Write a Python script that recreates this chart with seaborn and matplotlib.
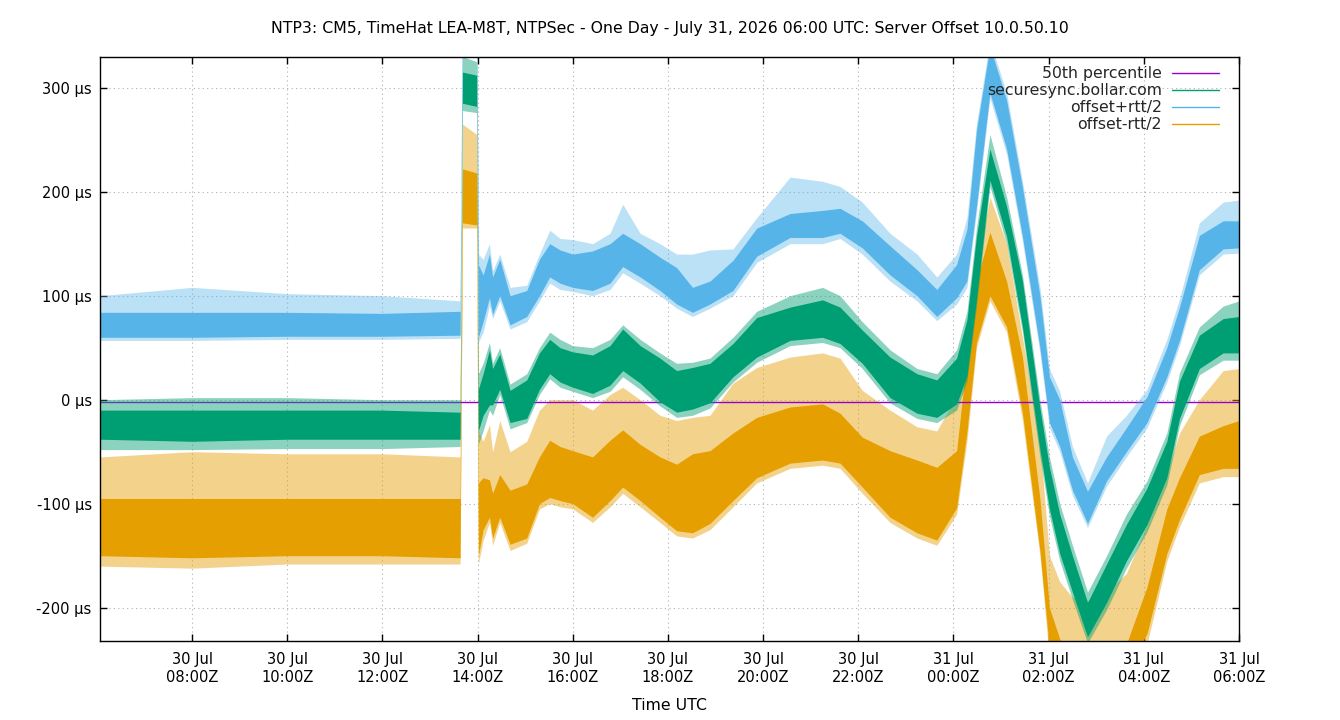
import numpy as np
import pandas as pd
import matplotlib
matplotlib.use("Agg")
import matplotlib.pyplot as plt
import matplotlib.dates as mdates
import matplotlib.ticker as mticker
from matplotlib.lines import Line2D
import seaborn as sns

# ---------------- data ----------------
times = ["2026-07-30 06:04", "2026-07-30 08:00", "2026-07-30 10:00", "2026-07-30 12:00",
         "2026-07-30 13:38", "2026-07-30 13:41", "2026-07-30 13:59", "2026-07-30 14:01",
         "2026-07-30 14:07", "2026-07-30 14:15", "2026-07-30 14:19", "2026-07-30 14:28",
         "2026-07-30 14:41", "2026-07-30 15:02", "2026-07-30 15:18", "2026-07-30 15:31",
         "2026-07-30 15:44", "2026-07-30 16:00", "2026-07-30 16:25", "2026-07-30 16:47",
         "2026-07-30 17:03", "2026-07-30 17:25", "2026-07-30 17:50", "2026-07-30 18:11",
         "2026-07-30 18:31", "2026-07-30 18:53", "2026-07-30 19:22", "2026-07-30 19:52",
         "2026-07-30 20:34", "2026-07-30 21:15", "2026-07-30 21:37", "2026-07-30 22:05",
         "2026-07-30 22:40", "2026-07-30 23:14", "2026-07-30 23:39", "2026-07-31 00:04",
         "2026-07-31 00:17", "2026-07-31 00:29", "2026-07-31 00:46", "2026-07-31 01:07",
         "2026-07-31 01:27", "2026-07-31 01:49", "2026-07-31 02:01", "2026-07-31 02:14",
         "2026-07-31 02:30", "2026-07-31 02:49", "2026-07-31 03:13", "2026-07-31 03:38",
         "2026-07-31 04:04", "2026-07-31 04:29", "2026-07-31 04:45", "2026-07-31 05:10",
         "2026-07-31 05:40", "2026-07-31 06:00"]

# offset+rtt/2 (µs): dense band low/high, and extent of the sparse spikes
plus_lo = [60, 60, 61, 61, 62, 340, 340,
           60, 75, 98, 82, 100, 72, 80, 100, 118, 112, 108, 105, 112, 128, 118, 105, 92, 84, 92,
           105, 138, 156, 156, 160, 146, 120, 100, 80,
           98, 114, 186, 295, 241, 157, 50, -22, -45, -87, -119, -78, -50, -22, 22, 57, 125, 145, 146]
plus_hi = [84, 84, 84, 83, 85, 380, 380,
           130, 120, 140, 118, 135, 100, 105, 135, 150, 144, 140, 143, 150, 160, 150, 137, 127, 108, 114,
           134, 165, 179, 182, 184, 172, 148, 125, 106,
           130, 164, 259, 340, 288, 204, 100, 22, 0, -55, -88, -55, -27, 3, 50, 89, 158, 172, 172]
plus_spike_hi = [100, 108, 102, 100, 95, 390, 390,
                 140, 135, 150, 124, 140, 108, 110, 140, 163, 155, 154, 150, 160, 188, 160, 150, 140, 140, 144,
                 145, 175, 214, 210, 205, 190, 160, 140, 118,
                 140, 175, 265, 345, 295, 210, 108, 30, 8, -45, -80, -35, -15, 10, 58, 97, 170, 190, 192]
plus_spike_lo = [57, 57, 58, 58, 59, 335, 335,
                 55, 65, 90, 78, 95, 68, 75, 95, 112, 106, 104, 100, 106, 122, 112, 100, 88, 80, 88,
                 100, 132, 150, 150, 155, 140, 114, 95, 76,
                 92, 108, 180, 290, 236, 152, 45, -27, -50, -92, -123, -83, -55, -27, 17, 52, 120, 140, 141]

# securesync.bollar.com offset (µs)
sync_lo = [-38, -40, -38, -38, -38, 285, 282,
           -30, -15, -5, -5, 10, -22, -18, 10, 25, 17, 12, 6, 14, 28, 16, -2, -12, -9, -3,
           22, 41, 57, 60, 54, 35, 2, -13, -17,
           -4, 23, 96, 211, 157, 70, -48, -105, -148, -185, -228, -195, -155, -120, -75, -18, 30, 45, 45]
sync_hi = [-10, -10, -10, -10, -12, 315, 312,
           10, 25, 48, 30, 44, 9, 19, 45, 58, 50, 46, 43, 52, 68, 52, 40, 28, 31, 35,
           54, 79, 89, 96, 89, 67, 41, 25, 19,
           40, 77, 157, 241, 186, 114, -8, -65, -110, -150, -195, -158, -120, -85, -40, 18, 62, 78, 80]
sync_spike_hi = [0, 2, 2, 0, 0, 330, 325,
                 25, 35, 55, 35, 50, 15, 25, 50, 65, 58, 52, 50, 58, 72, 58, 45, 35, 36, 40,
                 60, 85, 100, 108, 100, 75, 48, 30, 25,
                 48, 85, 165, 255, 195, 120, 0, -55, -100, -140, -185, -150, -110, -78, -32, 26, 70, 90, 95]
sync_spike_lo = [-48, -48, -47, -47, -45, 278, 276,
                 -43, -30, -10, -15, 5, -28, -22, 5, 20, 12, 8, 2, 8, 22, 10, -6, -17, -15, -8,
                 17, 36, 52, 55, 50, 30, -3, -18, -22,
                 -10, 18, 90, 205, 150, 65, -55, -112, -155, -192, -234, -202, -162, -127, -82, -25, 24, 38, 38]

# offset-rtt/2 (µs)
minus_lo = [-150, -152, -150, -150, -152, 170, 168,
            -150, -125, -113, -133, -113, -139, -133, -100, -94, -97, -100, -113, -97, -84, -97, -113, -126, -128, -119,
            -97, -75, -61, -58, -61, -84, -113, -128, -135,
            -104, -31, 55, 100, 70, -13, -145, -240, -260, -290, -300, -290, -260, -225, -148, -115, -72, -66, -66]
minus_hi = [-95, -95, -95, -95, -95, 222, 218,
            -80, -75, -77, -90, -72, -87, -81, -55, -39, -45, -49, -55, -39, -29, -43, -55, -62, -52, -49,
            -32, -17, -7, -4, -13, -36, -49, -58, -65,
            -49, 41, 114, 161, 114, 41, -95, -200, -230, -250, -260, -250, -235, -180, -105, -75, -35, -25, -20]
minus_spike_hi = [-55, -50, -52, -52, -55, 265, 255,
                  -30, -40, -24, -50, -20, -50, -40, -10, 0, 0, 0, -10, 5, 12, 0, -15, -20, -17, -15,
                  16, 31, 41, 45, 40, 9, -10, -26, -30,
                  4, 50, 125, 195, 150, 60, -40, -150, -175, -190, -193, -185, -167, -120, -70, -32, 0, 28, 30]
minus_spike_lo = [-160, -162, -158, -158, -158, 165, 165,
                  -158, -135, -118, -140, -118, -145, -138, -105, -100, -103, -105, -118, -103, -90, -103, -118, -131, -133, -125,
                  -103, -80, -66, -63, -66, -90, -118, -133, -140,
                  -110, -40, 50, 95, 65, -20, -150, -250, -270, -300, -310, -300, -270, -235, -155, -122, -80, -74, -74]

percentile_50 = -2.4

labels = ["50th percentile", "securesync.bollar.com", "offset+rtt/2", "offset-rtt/2"]
colors = ["#9400d3", "#009e73", "#56b4e9", "#e69f00"]
yticks = [-200, -100, 0, 100, 200, 300]
title = ("NTP3: CM5, TimeHat LEA-M8T, NTPSec - One Day - July 31, 2026 06:00 UTC: "
         "Server Offset 10.0.50.10")

# ---------------- style ----------------
sns.set_theme(style="ticks")
plt.rcParams["font.family"] = ["DejaVu Sans"]
FS_TICK = 10.5
FS_TEXT = 11.3

fig = plt.figure(figsize=(13.4, 7.2), dpi=100)
ax = fig.add_axes([100 / 1340, 1 - 641 / 720, 1139 / 1340, 584 / 720])

t = pd.to_datetime(pd.Series(times))


def band(lo, hi, color, alpha, z):
    df = pd.DataFrame({"time": pd.concat([t, t], ignore_index=True),
                       "value": np.concatenate([np.asarray(lo, float), np.asarray(hi, float)])})
    sns.lineplot(data=df, x="time", y="value", estimator="mean", errorbar=("pi", 100),
                 color=color, linewidth=0, legend=False, ax=ax,
                 err_kws={"alpha": alpha, "linewidth": 0, "zorder": z})


# offset-rtt/2 (bottom layer)
band(minus_spike_lo, minus_spike_hi, colors[3], 0.45, 2.0)
band(minus_lo, minus_hi, colors[3], 1.0, 2.1)
# 50th percentile
ax.axhline(percentile_50, color=colors[0], lw=1.0, zorder=2.5)
# securesync
band(sync_spike_lo, sync_spike_hi, colors[1], 0.45, 3.0)
band(sync_lo, sync_hi, colors[1], 1.0, 3.1)
# offset+rtt/2
band(plus_spike_lo, plus_spike_hi, colors[2], 0.4, 4.0)
band(plus_lo, plus_hi, colors[2], 1.0, 4.1)

# ---------------- axes ----------------
ax.set_xlim(pd.Timestamp("2026-07-30 06:04"), pd.Timestamp("2026-07-31 06:00"))
ax.set_ylim(-232, 329.5)
ax.xaxis.set_major_locator(mdates.HourLocator(byhour=range(0, 24, 2)))
ax.xaxis.set_major_formatter(mdates.DateFormatter("%d %b\n%H:%MZ"))
ax.yaxis.set_major_locator(mticker.FixedLocator(yticks))
ax.yaxis.set_major_formatter(mticker.FuncFormatter(lambda v, p: f"{int(round(v))} µs"))
ax.set_xlabel("")
ax.set_ylabel("")
ax.tick_params(axis="both", direction="in", length=5, width=1, color="black",
               top=True, right=True, labelsize=FS_TICK, labelcolor="black")
ax.tick_params(axis="x", pad=8)
ax.tick_params(axis="y", pad=6)
for lab in ax.get_xticklabels():
    lab.set_ha("center")
for s in ax.spines.values():
    s.set_visible(True)
    s.set_color("black")
    s.set_linewidth(1.0)
    s.set_zorder(10)
ax.grid(True, color="#b0b0b0", linestyle=(0, (1, 3)), linewidth=0.8, zorder=0)
ax.set_axisbelow(True)

# legend (gnuplot style: text right-aligned, sample on the right)
handles = [Line2D([0], [0], color=c, lw=1.0) for c in colors]
leg = fig.legend(handles, labels, loc="upper right",
                 bbox_to_anchor=(1219 / 1340, 1 - 66 / 720), bbox_transform=fig.transFigure,
                 frameon=False, markerfirst=False, fontsize=FS_TEXT, handlelength=3.0,
                 handletextpad=0.65, labelspacing=0.13, borderpad=0, borderaxespad=0)

fig.text(0.5, 1 - 28 / 720, title, ha="center", va="center", fontsize=FS_TEXT, color="black")
fig.text(670 / 1340, 1 - 706 / 720, "Time UTC", ha="center", va="center", fontsize=FS_TEXT, color="black")

fig.savefig("out.png", dpi=100, facecolor="white")
